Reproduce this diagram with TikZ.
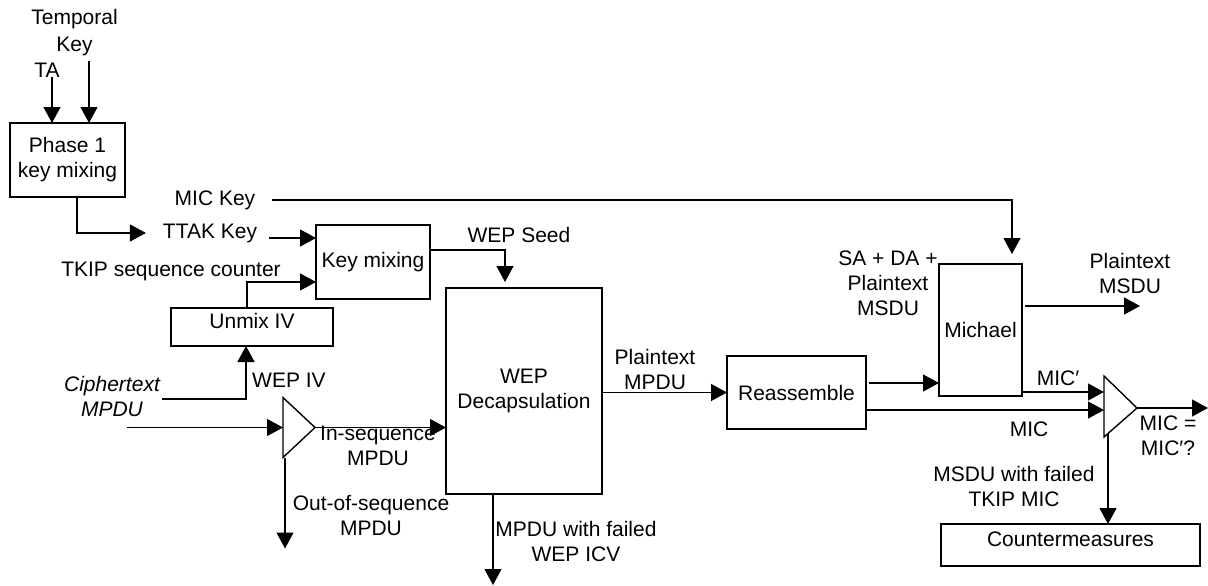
\documentclass[tikz,border=0pt]{standalone}
\usepackage{fontspec}
\setmainfont{Liberation Sans}
\usetikzlibrary{arrows.meta}
\begin{document}
\begin{tikzpicture}[x=1pt,y=-1pt,
  every node/.style={font=\fontsize{21}{25}\selectfont},
  box/.style={draw, line width=2pt, inner sep=0pt, outer sep=0pt, align=center},
  lbl/.style={inner sep=0pt, outer sep=0pt, align=center},
  arr/.style={line width=1.2pt, -{Triangle[length=16pt,width=17pt]}},
  conn/.style={line width=1.2pt},
  tri/.style={line width=1.4pt}
]
\useasboundingbox (0,0) rectangle (1208,586);

% ---- boxes
\node[box, minimum width=115pt, minimum height=74pt] (p1) at (67.5,160) {Phase 1\\key mixing};
\node[box, minimum width=114pt, minimum height=74pt] (km) at (373,262) {Key mixing};
\node[box, minimum width=162pt, minimum height=38pt] (um) at (252,327) {};
\node[lbl] (umt) at ([yshift=6pt]um.center) {Unmix IV};
\node[box, minimum width=156pt, minimum height=206pt] (wd) at (524,391) {WEP\\Decapsulation};
\node[box, minimum width=139pt, minimum height=73pt] (ra) at (796.5,392.5) {Reassemble};
\node[box, minimum width=83pt, minimum height=132pt] (mich) at (980.5,330) {Michael};
\node[box, minimum width=259pt, minimum height=42pt] (cm) at (1070.5,545) {};
\node[lbl] (cmt) at ([yshift=6pt]cm.center) {Countermeasures};

% ---- comparators
\coordinate (t1t) at (283,397.5);
\coordinate (t1b) at (283,457.5);
\coordinate (t1a) at (315,427.5);
\draw[tri] (t1t) -- (t1a) -- (t1b) -- cycle;
\coordinate (t2t) at (1104,376);
\coordinate (t2b) at (1104,437);
\coordinate (t2a) at (1137,408);
\draw[tri] (t2t) -- (t2a) -- (t2b) -- cycle;

% ---- labels
\node[lbl, font=\fontsize{21}{27}\selectfont] (tk) at (74.5,32.5) {Temporal\\Key};
\node[lbl] (ta) at (47,70) {TA};
\node[lbl] (mickey) at (215,200) {MIC Key};
\node[lbl] (ttak) at (210,233) {TTAK Key};
\node[lbl] (tkip) at (171,271) {TKIP sequence counter};
\node[lbl] (seed) at (519,235) {WEP Seed};
\node[lbl] (wepiv) at (289,380) {WEP IV};
\node[lbl, font=\itshape\fontsize{21}{25}\selectfont] (ct) at (112,396.5) {Ciphertext\\MPDU};
\node[lbl] (inseq) at (378,445.5) {In-sequence\\MPDU};
\node[lbl] (outseq) at (371,515.5) {Out-of-sequence\\MPDU};
\node[lbl] (pmpdu) at (655,369) {Plaintext\\MPDU};
\node[lbl] (icv) at (576,541.5) {MPDU with failed\\WEP ICV};
\node[lbl] (sada) at (888,283.5) {SA + DA +\\Plaintext\\MSDU};
\node[lbl] (pmsdu) at (1130,273) {Plaintext\\MSDU};
\node[lbl] (micp) at (1058,378) {MIC′};
\node[lbl] (mic) at (1029,429) {MIC};
\node[lbl] (eq) at (1168,436) {MIC =\\MIC′?};
\node[lbl] (tmic) at (1014,486.5) {MSDU with failed\\TKIP MIC};

% ---- connectors
\coordinate (taend) at ([xshift=5pt]ta.south);
\draw[arr] (taend) -- (taend |- p1.north);
\coordinate (tks) at (89,61);
\draw[arr] (tks) -- (tks |- p1.north);
\draw[arr] ([xshift=9.5pt]p1.south) |- ([xshift=-17pt]ttak.west);
\draw[arr] ([xshift=17pt]mickey.east) -| ([xshift=31.5pt,yshift=10pt]mich.north);
\coordinate (ttako) at ([xshift=12pt,yshift=-5pt]ttak.east);
\draw[arr] (ttako) -- (ttako -| km.west);
\draw[arr] ([xshift=-5pt]um.north) |- ([yshift=-20pt]km.west);
\draw[arr] ([yshift=12pt]km.east) -| ([xshift=-19pt,yshift=6pt]wd.north);
\draw[arr] ([xshift=2pt,yshift=-2.5pt]ct.east) -| ([xshift=-6pt]um.south);
\coordinate (cin) at (127,427.5);
\draw[arr] (cin) -- (cin -| t1t);
\draw[arr] (t1a) -- (t1a -| wd.west);
\draw[arr] ([xshift=2pt]t1b) -- ++(0,91);
\draw[arr] ([xshift=-31pt]wd.south) -- ++(0,91);
\draw[arr] (wd.east |- ra.west) -- (ra.west);
\coordinate (rm) at ([xshift=3pt,yshift=9.5pt]ra.east);
\draw[arr] (rm) -- (rm -| mich.west);
\coordinate (rc) at ([yshift=-17.5pt]ra.east);
\draw[arr] (rc) -- (rc -| t2t);
\coordinate (mc) at ([yshift=-62pt]mich.east);
\draw[arr] (mc) -- (mc -| t2t);
\coordinate (mo) at ([xshift=3pt,yshift=24pt]mich.east);
\draw[arr] (mo) -- ++(115,0);
\draw[arr] (t2a) -- ++(71,0);
\coordinate (t2d) at (1108,434);
\draw[arr] (t2d) -- (t2d |- cm.north);
\end{tikzpicture}
\end{document}
